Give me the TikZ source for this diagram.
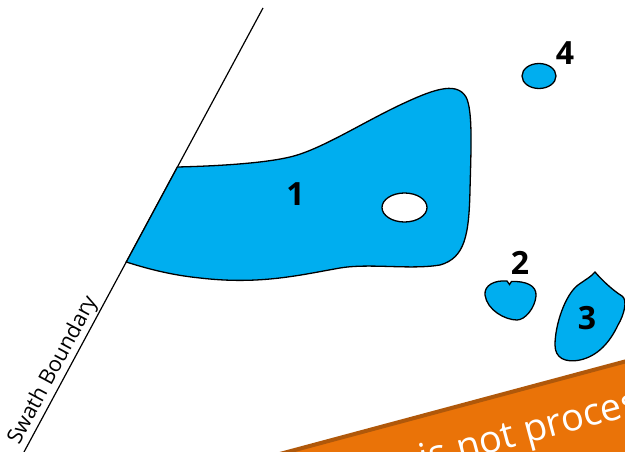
\documentclass[tikz,border=0pt]{standalone}
\usepackage{fontspec}
\setmainfont{Open Sans}
\definecolor{blobblue}{RGB}{0,174,239}
\definecolor{bannerorange}{RGB}{234,115,8}
\definecolor{bannerbrown}{RGB}{176,88,10}
\tikzset{
  blob/.style={fill=blobblue, draw=black, line width=1.3pt},
  hole/.style={fill=white, draw=black, line width=1.3pt},
  numlabel/.style={font=\fontsize{32}{32}\selectfont\bfseries, inner sep=0pt, text=black},
}
\begin{document}
\begin{tikzpicture}[x=1pt,y=-1pt]
\useasboundingbox (0,0) rectangle (625,452);
\clip (0,0) rectangle (625,452);
\fill[white] (0,0) rectangle (625,452);

% swath boundary line
\coordinate (lt) at (263,8);
\coordinate (lb) at (24,452);
\draw[line width=1.2pt] (lt) -- (lb);
\node[rotate=61.7, anchor=base west, inner sep=0pt, font=\fontsize{21.5}{21.5}\selectfont] (swath) at (19,446) {Swath Boundary};

% blob 1
\draw[blob] (177.4,167) .. controls (220,166) and (265,163) .. (290,157)
  .. controls (320,150) and (360,124) .. (400,105)
  .. controls (430,91) and (456,80) .. (466,97)
  .. controls (473,110) and (471,150) .. (470,190)
  .. controls (469,235) and (465,258) .. (440,265)
  .. controls (410,270) and (370,263) .. (340,268)
  .. controls (300,275) and (260,285) .. (200,278)
  .. controls (170,275) and (145,268) .. (126.3,262) -- cycle;
\draw[hole] (404.5,207.5) ellipse [x radius=22.5, y radius=14.5];
\node[numlabel] (n1) at (295.5,194) {1};

% blob 2
\draw[blob] (485,295) .. controls (484,285) and (495,280) .. (507,281)
  -- (509.5,284.5) -- (511.5,281.5)
  .. controls (525,281) and (537,285) .. (536,296)
  .. controls (535,308) and (525,320) .. (517,320)
  .. controls (505,320) and (487,310) .. (485,295) -- cycle;
\node[numlabel] (n2) at (520,263) {2};

% blob 3
\draw[blob] (595,272) .. controls (600,278) and (612,290) .. (622,296)
  .. controls (628,300) and (624,315) .. (618,325)
  .. controls (610,342) and (598,356) .. (580,360)
  .. controls (565,363) and (555,358) .. (555,345)
  .. controls (555,325) and (565,295) .. (578,285)
  .. controls (585,280) and (592,276) .. (595,272) -- cycle;
\node[numlabel] (n3) at (587,318) {3};

% blob 4
\draw[blob] (539,76) ellipse [x radius=17, y radius=12.5];
\node[numlabel] (n4) at (565,53) {4};

% banner
\begin{scope}[shift={(500,395)}, rotate=15]
  \fill[bannerorange] (-320,0) rectangle (320,160);
  \draw[bannerbrown, line width=4pt] (-320,0) -- (320,0);
  \node[rotate=15, anchor=base west, inner sep=0pt, text=white,
        font=\fontsize{38}{38}\selectfont] (banner) at (-56,54) {\llap{Data is }not processed};
\end{scope}
\end{tikzpicture}
\end{document}
